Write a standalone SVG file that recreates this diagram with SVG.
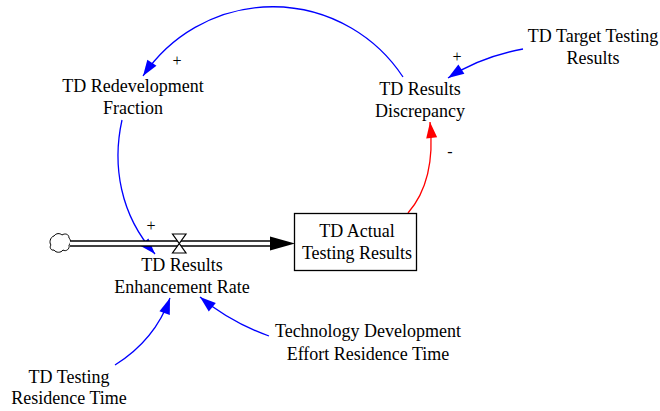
<svg xmlns="http://www.w3.org/2000/svg" width="660" height="411" viewBox="0 0 660 411">
<style>
text{font-family:"Liberation Serif","Times New Roman",serif;font-size:18px;fill:#000;text-anchor:middle}
.pol{font-size:16px}
.lb{fill:none;stroke:#0000ff;stroke-width:1.3}
.lr{fill:none;stroke:#ff0000;stroke-width:1.3}
</style>
<defs>
<marker id="ab" markerUnits="userSpaceOnUse" markerWidth="17" markerHeight="12" refX="16" refY="5.5" orient="auto" overflow="visible">
<path d="M0,0 L16,5.5 L0,11 Z" fill="#0000ff"/>
</marker>
<marker id="ar" markerUnits="userSpaceOnUse" markerWidth="17" markerHeight="12" refX="16" refY="5.5" orient="auto" overflow="visible">
<path d="M0,0 L16,5.5 L0,11 Z" fill="#ff0000"/>
</marker>
</defs>
<rect width="660" height="411" fill="#fff"/>
<g id="connectors">
<path class="lb" d="M403,77 A156,156 0 0 0 143,76" marker-end="url(#ab)"/>
<path class="lb" d="M122,120 C112,165 120,215 155,254" marker-end="url(#ab)"/>
<path class="lr" d="M408,213 C428,190 434,160 430,122" marker-end="url(#ar)"/>
<path class="lb" d="M523,49 Q480,57 448,78" marker-end="url(#ab)"/>
<path class="lb" d="M115,365 Q155,340 170,298" marker-end="url(#ab)"/>
<path class="lb" d="M269,336 Q230,322 200,297" marker-end="url(#ab)"/>
<text class="pol" x="177" y="66">+</text>
<text class="pol" x="151" y="231">+</text>
<text class="pol" x="457" y="62">+</text>
<text class="pol" x="450" y="157">-</text>
</g>
<g id="flow">
<path d="M54,236 c2,-3 6,-3 8,-1 c3,-2 7,-1 7,3 c2,2 2,5 0,7 c1,4 -3,7 -6,5 c-2,3 -7,3 -9,0 c-3,1 -5,-3 -3,-5 c-2,-2 -1,-8 3,-9 z" fill="#fff" stroke="#000" stroke-width="1"/>
<line x1="70" y1="243.5" x2="272" y2="243.5" stroke="#000" stroke-width="6.5"/>
<line x1="70" y1="243.5" x2="272" y2="243.5" stroke="#fff" stroke-width="3.5"/>
<polygon points="270,236.5 295,243.5 270,250.5" fill="#000"/>
<path d="M172.5,234 H186 L172.5,253 H186 Z" fill="#fff" stroke="#000" stroke-width="1.2"/>
</g>
<g id="td-redevelopment-fraction"><text x="133" y="92">TD Redevelopment</text><text x="133" y="114">Fraction</text></g>
<g id="td-results-discrepancy"><text x="420" y="95">TD Results</text><text x="420" y="117">Discrepancy</text></g>
<g id="td-target-testing-results"><text x="593" y="42">TD Target Testing</text><text x="593" y="64">Results</text></g>
<g id="td-actual-testing-results"><rect x="294.5" y="213.5" width="122" height="57" fill="#fff" stroke="#000" stroke-width="1.3"/><text x="357" y="237">TD Actual</text><text x="357" y="259">Testing Results</text></g>
<g id="td-results-enhancement-rate"><text x="182" y="271">TD Results</text><text x="182" y="293">Enhancement Rate</text></g>
<g id="technology-development-effort-residence-time"><text x="368" y="337">Technology Development</text><text x="368" y="360">Effort Residence Time</text></g>
<g id="td-testing-residence-time"><text x="69" y="383">TD Testing</text><text x="69" y="404">Residence Time</text></g>
</svg>
